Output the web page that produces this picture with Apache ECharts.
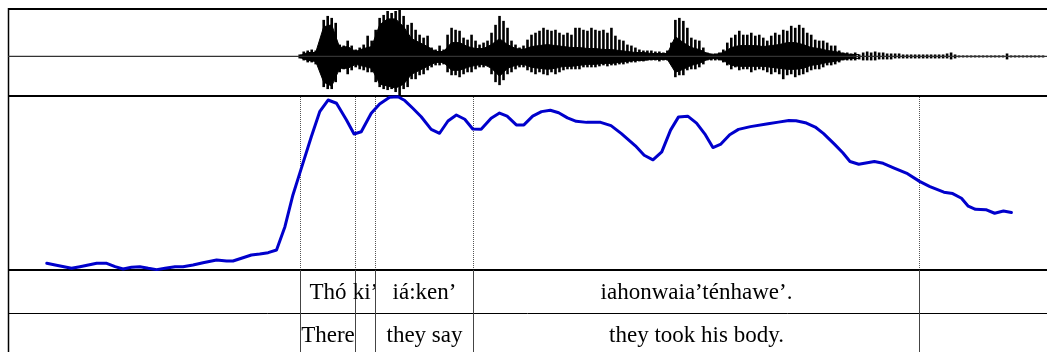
<!DOCTYPE html>
<html>
<head>
<meta charset="utf-8">
<script src="https://cdn.jsdelivr.net/npm/echarts@6/dist/echarts.min.js"></script>
<style>
  html, body { margin: 0; padding: 0; background: #fff; }
  #chart { width: 1047px; height: 352px; }
</style>
</head>
<body>
<div id="chart"></div>
<script>
// ---- time axis (seconds) ----
const T_MAX = 2.6;

// ---- waveform: spike envelope, one sample every 10 ms from 0.73 s ----
const waveStart = 0.73, waveStep = 0.01;
const waveUpper = [
  2, 5, 6, 7, 6, 5, 37, 41, 39, 34,
  12, 11, 16, 11, 7, 9, 12, 21, 16, 27,
  39, 42, 46, 44, 46, 47, 41, 32, 34, 27,
  22, 19, 21, 9, 7, 11, 7, 22, 29, 27,
  26, 19, 17, 22, 16, 12, 14, 16, 24, 32,
  41, 36, 29, 16, 12, 9, 11, 17, 22, 24,
  26, 29, 27, 26, 27, 24, 22, 24, 22, 29,
  29, 27, 26, 29, 27, 26, 27, 24, 29, 21,
  17, 16, 12, 11, 9, 7, 6, 6, 6, 5,
  5, 4, 6, 14, 37, 39, 36, 29, 19, 17,
  16, 9, 4, 2, 3, 4, 7, 14, 19, 22,
  26, 22, 22, 24, 21, 22, 19, 16, 21, 24,
  22, 27, 26, 31, 29, 32, 29, 24, 22, 17,
  16, 16, 14, 11, 11, 6, 4, 4, 3, 4,
  2, 4, 5, 4, 5, 4, 4, 3, 3, 3,
  3, 2, 2, 2, 2, 2, 2, 2, 2, 2,
  2, 2, 3, 4, 2, 1, 1, 1, 1, 1,
  1, 1, 1, 1, 1, 1, 1, 3, 1, 1,
  1, 1, 1, 1, 1, 1, 1
];
const waveLower = [
  -2, -4, -6, -6, -8, -7, -31, -33, -33, -26,
  -16, -13, -18, -14, -11, -13, -14, -16, -16, -26,
  -31, -33, -34, -33, -36, -39, -33, -31, -23, -23,
  -19, -18, -14, -11, -9, -9, -8, -16, -19, -19,
  -21, -18, -16, -16, -13, -11, -11, -9, -18, -26,
  -29, -24, -18, -16, -13, -11, -11, -14, -16, -18,
  -16, -18, -19, -16, -18, -16, -14, -13, -13, -13,
  -13, -11, -11, -11, -11, -10, -9, -10, -9, -9,
  -8, -8, -7, -6, -6, -5, -5, -4, -4, -4,
  -5, -4, -4, -5, -21, -19, -19, -14, -13, -13,
  -11, -8, -4, -4, -4, -4, -6, -9, -13, -11,
  -14, -13, -13, -16, -14, -13, -14, -16, -18, -16,
  -18, -23, -19, -18, -21, -19, -18, -16, -14, -13,
  -13, -11, -9, -9, -8, -6, -4, -4, -4, -4,
  -3, -4, -4, -4, -4, -3, -3, -3, -3, -2,
  -2, -2, -2, -2, -2, -2, -2, -2, -2, -2,
  -2, -2, -2, -3, -2, -1, -1, -1, -1, -1,
  -1, -1, -1, -1, -1, -1, -1, -3, -1, -1,
  -1, -1, -1, -1, -1, -1, -1
];

// ---- waveform: dense core, one sample every 20 ms from 0.73 s ----
const coreStart = 0.73, coreStep = 0.02;
const coreUpper = [
  1, 4, 4, 30, 32, 9, 10, 5, 8, 10,
  32, 38, 38, 30, 18, 14, 10, 5, 5, 14,
  14, 10, 8, 8, 12, 18, 12, 8, 7, 10,
  11, 12, 11, 10, 9, 9, 8, 8, 7, 7,
  6, 5, 4, 4, 3, 3, 3, 20, 14, 9,
  7, 3, 2, 4, 9, 11, 11, 11, 10, 11,
  12, 14, 14, 12, 9, 8, 6, 5, 3, 2,
  2
];
const coreLower = [
  -1, -4, -5, -26, -30, -12, -12, -8, -10, -12,
  -28, -30, -32, -28, -18, -14, -10, -6, -6, -14,
  -14, -11, -9, -8, -12, -20, -12, -9, -8, -11,
  -12, -13, -12, -10, -10, -9, -8, -8, -7, -7,
  -6, -5, -4, -4, -3, -3, -3, -16, -13, -9,
  -7, -3, -2, -4, -9, -10, -10, -10, -10, -11,
  -12, -13, -13, -12, -9, -8, -6, -5, -3, -2,
  -2
];

// ---- pitch track ----
const pitchTime = [
  0.097, 0.118, 0.159, 0.180, 0.222, 0.247, 0.268, 0.288, 0.309, 0.330,
  0.351, 0.372, 0.393, 0.418, 0.438, 0.463, 0.488, 0.522, 0.547, 0.563,
  0.588, 0.609, 0.630, 0.651, 0.672, 0.693, 0.713, 0.730, 0.759, 0.780,
  0.801, 0.822, 0.847, 0.866, 0.884, 0.909, 0.930, 0.955, 0.976, 0.993,
  1.013, 1.034, 1.059, 1.080, 1.101, 1.122, 1.143, 1.163, 1.184, 1.209,
  1.230, 1.249, 1.272, 1.291, 1.313, 1.335, 1.357, 1.378, 1.400, 1.422,
  1.448, 1.483, 1.509, 1.535, 1.570, 1.592, 1.614, 1.636, 1.658, 1.678,
  1.701, 1.723, 1.745, 1.764, 1.784, 1.806, 1.828, 1.858, 1.902, 1.928,
  1.954, 1.972, 1.998, 2.020, 2.041, 2.068, 2.089, 2.107, 2.129, 2.168,
  2.190, 2.216, 2.251, 2.281, 2.307, 2.342, 2.364, 2.386, 2.403, 2.421,
  2.447, 2.469, 2.491, 2.511
];
const pitchHz = [
  83.7, 81.5, 77.2, 79.3, 83.7, 83.7, 79.3, 76.3, 78.5, 79.3,
  77.2, 75.5, 77.2, 79.3, 79.3, 81.5, 84.4, 87.9, 86.6, 86.6,
  90.9, 94.4, 95.7, 97.4, 100.9, 131.0, 172.0, 200.0, 247.4, 279.7,
  294.8, 290.6, 269.0, 250.9, 253.8, 277.6, 289.7, 298.3, 299.1, 294.1,
  284.1, 273.2, 256.9, 251.8, 267.7, 275.4, 269.9, 257.3, 256.9, 271.2,
  278.0, 273.9, 262.6, 262.6, 273.9, 279.8, 281.6, 278.4, 271.7, 267.2,
  265.9, 265.9, 261.7, 251.4, 235.6, 223.4, 217.5, 227.8, 255.9, 273.0,
  273.9, 265.0, 250.0, 233.3, 237.8, 250.0, 256.8, 260.4, 264.1, 266.2,
  268.4, 268.1, 265.0, 259.9, 251.4, 237.8, 226.6, 215.3, 211.7, 215.3,
  213.0, 207.2, 199.5, 189.6, 182.8, 175.6, 173.8, 167.8, 157.5, 153.5,
  153.0, 148.4, 151.2, 149.4
];

// ---- interval tiers ----
const tierBounds = [0.73, 0.8675, 0.9175, 1.1625, 2.28];
const tierWords = ['Thó', 'ki’', 'iá:ken’', 'iahonwaia’ténhawe’.'];
const tierGloss = ['There', '', 'they say', 'they took his body.'];

// ---- layout ----
const LEFT = 8, WIDTH = 1040;
const WAVE_TOP = 9, WAVE_H = 87;
const PITCH_TOP = 96, PITCH_H = 174;
const ROW1_TOP = 270, ROW2_TOP = 313, ROW2_BOTTOM = 356;
const TEXT_FONT = '23px "Liberation Serif", "Times New Roman", serif';

const chart = echarts.init(document.getElementById('chart'), null, { renderer: 'canvas' });

const spikeData = waveUpper.map((u, i) => [waveStart + i * waveStep, u, waveLower[i]]);
const coreTop = coreUpper.map((v, i) => [coreStart + i * coreStep, v]);
const coreBot = coreLower.map((v, i) => [coreStart + i * coreStep, v]);
const pitchData = pitchTime.map((t, i) => [t, pitchHz[i]]);
const intervals = tierWords.map((w, i) => [tierBounds[i], tierBounds[i + 1]]);

function rowLine(x, y1, y2, dashed) {
  return {
    type: 'line',
    shape: { x1: x, y1: y1, x2: x, y2: y2 },
    style: dashed
      ? { stroke: '#555', lineWidth: 1, lineDash: [1, 1] }
      : { stroke: '#444', lineWidth: 1 }
  };
}

function rowText(text, x, y) {
  return {
    type: 'text',
    x: x, y: y,
    style: {
      text: text, font: TEXT_FONT, fill: '#000',
      align: 'center', verticalAlign: 'middle',
      textAlign: 'center', textVerticalAlign: 'middle'
    }
  };
}

chart.setOption({
  animation: false,
  backgroundColor: '#fff',
  grid: [
    { left: LEFT, top: WAVE_TOP, width: WIDTH, height: WAVE_H },
    { left: LEFT, top: PITCH_TOP, width: WIDTH, height: PITCH_H }
  ],
  xAxis: [
    { type: 'value', gridIndex: 0, min: 0, max: T_MAX, show: false },
    { type: 'value', gridIndex: 1, min: 0, max: T_MAX, show: false }
  ],
  yAxis: [
    { type: 'value', gridIndex: 0, min: -40, max: 48, show: false },
    { type: 'value', gridIndex: 1, min: 75, max: 300, show: false }
  ],
  series: [
    // zero line of the waveform across the whole recording
    {
      type: 'line', xAxisIndex: 0, yAxisIndex: 0,
      data: [[0, 0], [T_MAX, 0]],
      symbol: 'none', silent: true,
      lineStyle: { color: '#333', width: 1.2 }
    },
    // waveform core (filled to zero from both sides)
    {
      type: 'line', xAxisIndex: 0, yAxisIndex: 0, data: coreTop,
      symbol: 'none', silent: true,
      lineStyle: { color: '#000', width: 1 },
      areaStyle: { color: '#000', opacity: 1 }
    },
    {
      type: 'line', xAxisIndex: 0, yAxisIndex: 0, data: coreBot,
      symbol: 'none', silent: true,
      lineStyle: { color: '#000', width: 1 },
      areaStyle: { color: '#000', opacity: 1 }
    },
    // waveform spikes
    {
      type: 'custom', xAxisIndex: 0, yAxisIndex: 0, clip: false, silent: true,
      data: spikeData,
      encode: { x: 0, y: [1, 2] },
      renderItem: function (params, api) {
        const t = api.value(0);
        const a = api.coord([t, api.value(1)]);
        const b = api.coord([t, api.value(2)]);
        return {
          type: 'line',
          shape: { x1: a[0], y1: a[1], x2: b[0], y2: b[1] },
          style: { stroke: '#000', lineWidth: 2.6 }
        };
      }
    },
    // pitch contour
    {
      type: 'line', xAxisIndex: 1, yAxisIndex: 1, data: pitchData,
      symbol: 'none', silent: true, clip: false,
      lineStyle: { color: '#0000cc', width: 3, join: 'round', cap: 'round' }
    },
    // tier intervals: boundaries and labels
    {
      type: 'custom', xAxisIndex: 1, yAxisIndex: 1, clip: false, silent: true,
      data: intervals,
      encode: { x: [0, 1] },
      renderItem: function (params, api) {
        const i = params.dataIndex;
        const x0 = Math.round(api.coord([api.value(0), 75])[0]) + 0.5;
        const x1 = Math.round(api.coord([api.value(1), 75])[0]) + 0.5;
        const mid = (x0 + x1) / 2;
        const children = [
          rowLine(x0, PITCH_TOP + 1, ROW1_TOP - 1, true),
          rowLine(x0, ROW1_TOP, ROW2_BOTTOM, false),
          rowText(tierWords[i], mid, ROW1_TOP + 23),
          rowText(tierGloss[i], mid, ROW2_TOP + 23)
        ];
        if (i === intervals.length - 1) {
          children.push(rowLine(x1, PITCH_TOP + 1, ROW1_TOP - 1, true));
          children.push(rowLine(x1, ROW1_TOP, ROW2_BOTTOM, false));
        }
        return { type: 'group', children: children };
      }
    }
  ],
  graphic: [
    // panel frame
    { type: 'line', shape: { x1: LEFT, y1: WAVE_TOP, x2: 1047, y2: WAVE_TOP }, style: { stroke: '#000', lineWidth: 2 } },
    { type: 'line', shape: { x1: LEFT, y1: PITCH_TOP, x2: 1047, y2: PITCH_TOP }, style: { stroke: '#000', lineWidth: 2 } },
    { type: 'line', shape: { x1: LEFT, y1: ROW1_TOP, x2: 1047, y2: ROW1_TOP }, style: { stroke: '#000', lineWidth: 2 } },
    { type: 'line', shape: { x1: LEFT, y1: ROW2_TOP + 0.5, x2: 1047, y2: ROW2_TOP + 0.5 }, style: { stroke: '#000', lineWidth: 1 } },
    { type: 'line', shape: { x1: LEFT + 0.5, y1: WAVE_TOP - 1, x2: LEFT + 0.5, y2: 352 }, style: { stroke: '#000', lineWidth: 1.5 } }
  ]
});
</script>
</body>
</html>
